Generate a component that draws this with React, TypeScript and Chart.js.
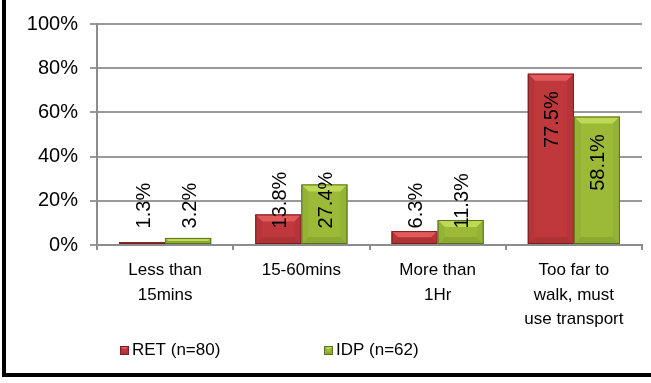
import React, { useEffect, useRef } from "react";
import { Chart, registerables } from "chart.js";

Chart.register(...registerables);

// ---- data ----
const categories: string[][] = [
  ["Less than", "15mins"],
  ["15-60mins"],
  ["More than", "1Hr"],
  ["Too far to", "walk, must", "use transport"],
];
const retValues = [1.3, 13.8, 6.3, 77.5];
const idpValues = [3.2, 27.4, 11.3, 58.1];
const seriesLabels = ["RET (n=80)", "IDP (n=62)"];
const yMin = 0;
const yMax = 100;
const yStep = 20;

// ---- styles ----
const FONT = "Arial, 'Liberation Sans', sans-serif";
const palettes = [
  { fill: "#BF383B", top: "#E05A5C", side: "#B73538", bottom: "#AE3134", border: "#7A1E20" },
  { fill: "#9BBB38", top: "#BFD956", side: "#94B334", bottom: "#8BA930", border: "#5A7120" },
];

function drawBevelRect(ctx: CanvasRenderingContext2D, l: number, t: number, r: number, bo: number, p: any, bevel: number) {
  const b = Math.max(0, Math.min(bevel, (bo - t) / 2, (r - l) / 2));
  ctx.fillStyle = p.fill;
  ctx.fillRect(l, t, r - l, bo - t);
  const poly = (pts: number[][], color: string) => {
    ctx.beginPath();
    ctx.moveTo(pts[0][0], pts[0][1]);
    for (let k = 1; k < pts.length; k++) ctx.lineTo(pts[k][0], pts[k][1]);
    ctx.closePath();
    ctx.fillStyle = color;
    ctx.fill();
  };
  if (b > 0) {
    poly([[l, t], [r, t], [r - b, t + b], [l + b, t + b]], p.top);
    poly([[l, bo], [r, bo], [r - b, bo - b], [l + b, bo - b]], p.bottom);
    poly([[l, t], [l + b, t + b], [l + b, bo - b], [l, bo]], p.side);
    poly([[r, t], [r - b, t + b], [r - b, bo - b], [r, bo]], p.side);
  }
  ctx.strokeStyle = p.border;
  ctx.lineWidth = 1;
  ctx.strokeRect(l + 0.5, t + 0.5, r - l - 1, Math.max(0, bo - t - 1));
}

const framePlugin = {
  id: "frame",
  beforeDraw(chart: any) {
    const ctx = chart.ctx;
    ctx.save();
    ctx.fillStyle = "#ffffff";
    ctx.fillRect(0, 0, chart.width, chart.height);
    ctx.restore();
  },
  afterDraw(chart: any) {
    const ctx = chart.ctx;
    ctx.save();
    ctx.fillStyle = "#000000";
    ctx.fillRect(2, 0, 4, 377);
    ctx.fillRect(2, 373, chart.width - 2, 4);
    ctx.restore();
  },
};

const barDecorPlugin = {
  id: "barDecor",
  afterDatasetsDraw(chart: any) {
    const ctx = chart.ctx;
    const yScale = chart.scales.y;
    ctx.save();
    chart.data.datasets.forEach((ds: any, di: number) => {
      const meta = chart.getDatasetMeta(di);
      meta.data.forEach((bar: any) => {
        const { x, y, base, width } = bar.getProps(["x", "y", "base", "width"], true);
        drawBevelRect(ctx, x - width / 2, y, x + width / 2, base, palettes[di], 7);
      });
    });
    // data labels
    ctx.fillStyle = "#000";
    ctx.font = `20px ${FONT}`;
    ctx.textBaseline = "middle";
    chart.data.datasets.forEach((ds: any, di: number) => {
      const meta = chart.getDatasetMeta(di);
      meta.data.forEach((bar: any, i: number) => {
        const v = ds.data[i] as number;
        const { x, y } = bar.getProps(["x", "y"], true);
        const txt = v.toFixed(1) + "%";
        ctx.save();
        if (v < 40) {
          ctx.translate(x + 2, yScale.getPixelForValue(7.5));
          ctx.rotate(-Math.PI / 2);
          ctx.textAlign = "left";
        } else {
          ctx.translate(x + 2, y + 17.5);
          ctx.rotate(-Math.PI / 2);
          ctx.textAlign = "right";
        }
        ctx.fillText(txt, 0, 0);
        ctx.restore();
      });
    });
    ctx.restore();
  },
};

const legendPlugin = {
  id: "customLegend",
  afterDraw(chart: any) {
    const ctx = chart.ctx;
    const items = [
      { x: 120, y: 346 },
      { x: 324, y: 346 },
    ];
    ctx.save();
    ctx.font = `17px ${FONT}`;
    ctx.textBaseline = "middle";
    ctx.textAlign = "left";
    chart.data.datasets.forEach((ds: any, di: number) => {
      const it = items[di];
      drawBevelRect(ctx, it.x, it.y, it.x + 9, it.y + 9, palettes[di], 3);
      ctx.fillStyle = "#000";
      ctx.fillText(ds.label, it.x + 12, it.y + 4.5);
    });
    ctx.restore();
  },
};

export default function App() {
  const ref = useRef<HTMLCanvasElement | null>(null);
  useEffect(() => {
    if (!ref.current) return;
    const chart = new Chart(ref.current, {
      type: "bar",
      data: {
        labels: categories,
        datasets: [
          { label: seriesLabels[0], data: retValues, backgroundColor: palettes[0].fill, borderColor: palettes[0].border, borderWidth: 1 },
          { label: seriesLabels[1], data: idpValues, backgroundColor: palettes[1].fill, borderColor: palettes[1].border, borderWidth: 1 },
        ],
      },
      options: {
        responsive: false,
        animation: false,
        events: [],
        layout: { padding: { left: 0, right: 9, top: 20, bottom: 0 } },
        datasets: { bar: { categoryPercentage: 0.676, barPercentage: 1 } },
        plugins: { legend: { display: false }, tooltip: { enabled: false } },
        scales: {
          x: {
            grid: { display: true, drawOnChartArea: false, drawTicks: true, tickLength: 5, color: "#8c8c8c", lineWidth: 2, offset: true },
            border: { display: true, color: "#8c8c8c", width: 2 },
            ticks: { color: "#000", font: { family: FONT, size: 17, lineHeight: 1.45 }, padding: 8, maxRotation: 0, minRotation: 0, autoSkip: false },
            afterFit: (s: any) => { s.height = 138; },
          },
          y: {
            min: yMin,
            max: yMax,
            ticks: { stepSize: yStep, color: "#000", font: { family: FONT, size: 20 }, padding: 12, callback: (v: any) => v + "%" },
            grid: { color: "#999999", lineWidth: 2, tickLength: 7 },
            border: { display: true, color: "#8c8c8c", width: 2 },
            afterFit: (s: any) => { s.width = 97; },
          },
        },
      },
      plugins: [framePlugin, barDecorPlugin, legendPlugin],
    } as any);
    return () => chart.destroy();
  }, []);
  return (
    <div style={{ position: "fixed", left: 0, top: 0, width: 651, height: 383 }}>
      <canvas ref={ref} width={651} height={383} style={{ display: "block", width: 651, height: 383 }} />
    </div>
  );
}
